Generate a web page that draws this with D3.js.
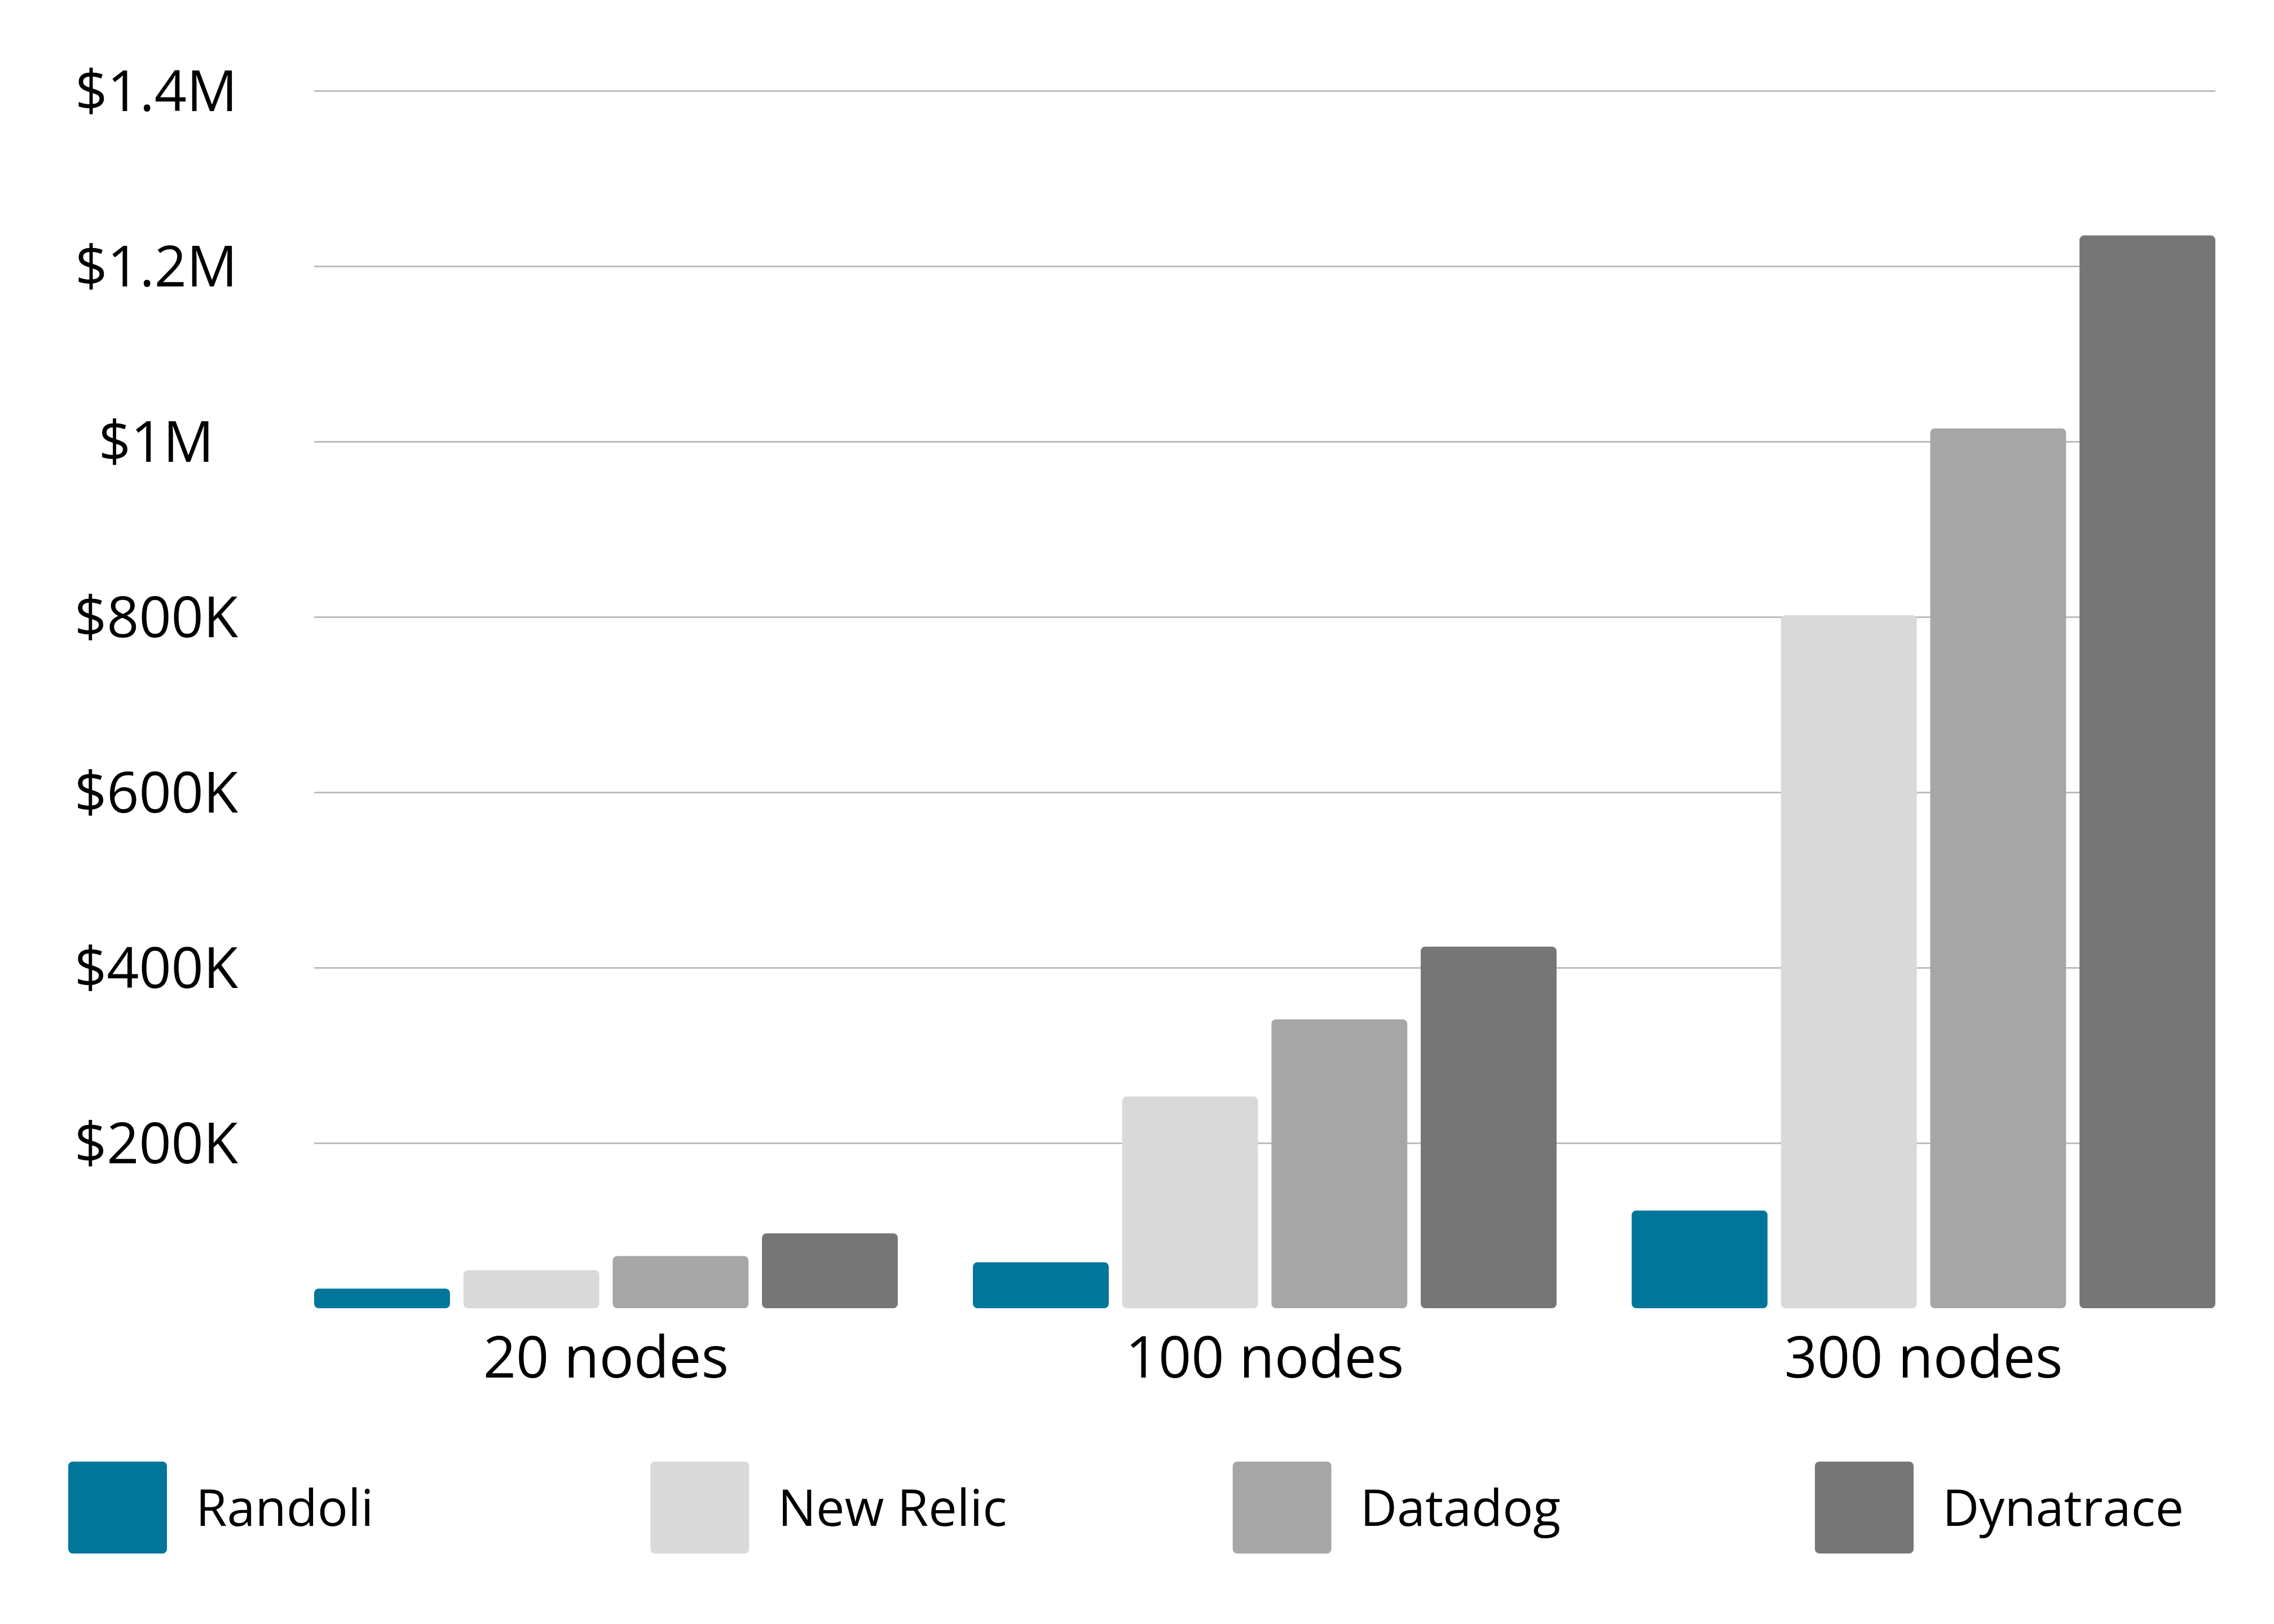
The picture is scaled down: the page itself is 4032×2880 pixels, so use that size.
<!DOCTYPE html>
<html>
<head>
<meta charset="utf-8">
<script src="https://cdn.jsdelivr.net/npm/d3@7"></script>
<style>
  html, body { margin: 0; padding: 0; background: #fff; }
  svg { display: block; font-family: 'Open Sans', sans-serif; font-weight: 500; }
</style>
</head>
<body>
<div id="chart-container"></div>
<script>
// cost per cluster size
const nodeGroups = ['20 nodes', '100 nodes', '300 nodes'];
const vendors = ['Randoli', 'New Relic', 'Datadog', 'Dynatrace'];
const randoliCost = [34000, 64000, 123000];
const newRelicCost = [55000, 253000, 802000];
const datadogCost = [71000, 341000, 1015000];
const dynatraceCost = [97000, 424000, 1235000];
const yTicks = [200000, 400000, 600000, 800000, 1000000, 1200000, 1400000];
const yTickLabels = ['$200K', '$400K', '$600K', '$800K', '$1M', '$1.2M', '$1.4M'];

const vendorColors = ['#02759a', '#d9d9d9', '#a6a6a6', '#767676'];

const width = 4032;
const height = 2880;
const plot = { left: 557, right: 3928, top: 161, bottom: 2338 };
const barGap = 18; // bars stop a little short of the zero line

const costs = [randoliCost, newRelicCost, datadogCost, dynatraceCost];
const rows = [];
nodeGroups.forEach((group, gi) => {
  vendors.forEach((vendor, vi) => {
    rows.push({ group, vendor, value: costs[vi][gi] });
  });
});

const svg = d3.select('#chart-container')
  .append('svg')
  .attr('width', width)
  .attr('height', height);

svg.append('rect')
  .attr('width', width)
  .attr('height', height)
  .attr('fill', '#fff');

const x0 = d3.scaleBand()
  .domain(nodeGroups)
  .range([plot.left, plot.right])
  .paddingInner(0.114)
  .paddingOuter(0);

const x1 = d3.scaleBand()
  .domain(vendors)
  .range([0, x0.bandwidth()])
  .paddingInner(0.09)
  .paddingOuter(0);

const y = d3.scaleLinear()
  .domain([0, 1400000])
  .range([plot.bottom, plot.top]);

const color = d3.scaleOrdinal()
  .domain(vendors)
  .range(vendorColors);

// horizontal grid lines with labels on the left
const yAxis = d3.axisLeft(y)
  .tickValues(yTicks)
  .tickSize(-(plot.right - plot.left))
  .tickFormat((d, i) => yTickLabels[i]);

const yAxisG = svg.append('g')
  .attr('transform', `translate(${plot.left},0)`)
  .call(yAxis);

yAxisG.select('.domain').remove();
yAxisG.selectAll('.tick line')
  .attr('stroke', '#bdbdbd')
  .attr('stroke-width', 3);
yAxisG.selectAll('.tick text')
  .attr('x', 277 - plot.left)
  .attr('dy', '0.35em')
  .attr('text-anchor', 'middle')
  .attr('fill', '#000')
  .style('font-size', '100px')
  .style('font-weight', 500)
  .style('font-family', "'Open Sans', sans-serif");

// bars
svg.append('g')
  .selectAll('rect')
  .data(rows)
  .enter()
  .append('rect')
  .attr('x', d => x0(d.group) + x1(d.vendor))
  .attr('y', d => y(d.value))
  .attr('width', x1.bandwidth())
  .attr('height', d => y(0) - barGap - y(d.value))
  .attr('rx', 8)
  .attr('ry', 8)
  .attr('fill', d => color(d.vendor));

// group labels under the bars
const xAxis = d3.axisBottom(x0).tickSize(0);
const xAxisG = svg.append('g')
  .attr('transform', `translate(0,${plot.bottom})`)
  .call(xAxis);

xAxisG.select('.domain').remove();
xAxisG.selectAll('.tick text')
  .attr('y', 105)
  .attr('dy', 0)
  .attr('fill', '#000')
  .style('font-size', '102px')
  .style('font-weight', 500)
  .style('font-family', "'Open Sans', sans-serif");

// legend row
const legendX = d3.scalePoint()
  .domain(vendors)
  .range([121, 3218]);

const legend = svg.append('g')
  .selectAll('g')
  .data(vendors)
  .enter()
  .append('g')
  .attr('transform', d => `translate(${legendX(d)},2592)`);

legend.append('rect')
  .attr('width', 175)
  .attr('height', 163)
  .attr('rx', 8)
  .attr('ry', 8)
  .attr('fill', d => color(d));

legend.append('text')
  .attr('x', 226)
  .attr('y', 82)
  .attr('dy', '0.35em')
  .attr('fill', '#000')
  .style('font-size', '90px')
  .text(d => d);
</script>
</body>
</html>
